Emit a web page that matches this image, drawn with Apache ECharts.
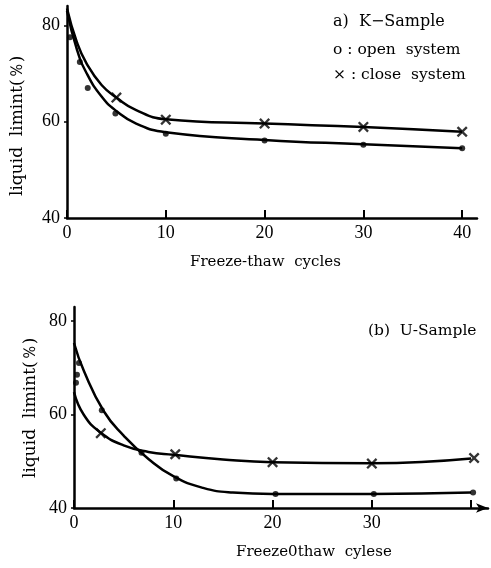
<!DOCTYPE html>
<html>
<head>
<meta charset="utf-8">
<script src="https://cdn.jsdelivr.net/npm/echarts@6/dist/echarts.min.js"></script>
<style>
html,body{margin:0;padding:0;background:#fff;}
#c{width:491px;height:568px;}
</style>
</head>
<body>
<div id="c"></div>
<script>
// ---- data ----
// Panel a) K-Sample
var kOpenCurve  = [[0,83],[1,75],[2,70],[3.5,65.2],[5,62.2],[7,59.6],[10,57.8],[20,56.2],[30,55.3],[40,54.5]];
var kCloseCurve = [[0,83.5],[1,76.5],[2,72],[3.5,67.6],[5,65],[7,62.4],[10,60.5],[20,59.6],[30,58.9],[40,57.9]];
var kOpenPts  = [[0.3,77.5],[1.3,72.4],[2.1,67],[4.9,61.7],[10,57.5],[20,56.1],[30,55.2],[40,54.5]];
var kClosePts = [[5,65],[10,60.4],[20,59.6],[30,58.9],[40,57.9]];
// Panel (b) U-Sample
var uOpenCurve  = [[0,75.3],[1,69.3],[3,60.7],[5,55.5],[7.5,50.5],[10,46.8],[13,44.3],[16,43.3],[20,43],[30,43],[40,43.3]];
var uCloseCurve = [[0,64.8],[1,59.9],[2.7,56.1],[5,53.4],[7.5,52],[10,51.4],[15,50.4],[20,49.8],[30,49.6],[40,50.6]];
var uOpenPts  = [[0.2,66.8],[0.3,68.5],[0.5,71],[2.8,60.9],[6.8,51.8],[10.3,46.3],[20.3,43],[30.2,43],[40.2,43.3]];
var uClosePts = [[2.7,56],[10.2,51.5],[20,49.8],[30,49.5],[40.3,50.7]];
var yTicks = [40,60,80];
var xTicksTop = [0,10,20,30,40];
var xLabelsBottom = [0,10,20,30];

var FONT = '"Liberation Serif","DejaVu Serif",serif';
var WFONT = '"DejaVu Serif","Liberation Serif",serif';
var crossPath = 'path://M0,1.5L1.5,0L5,3.5L8.5,0L10,1.5L6.5,5L10,8.5L8.5,10L5,6.5L1.5,10L0,8.5L3.5,5Z';

function xAxisCfg(idx, max, labels, ticks, arrow){
  return {
    type:'value', gridIndex:idx, min:0, max:max,
    axisLine:{show:true, onZero:false, lineStyle:{color:'#000', width:2.5}, symbol: arrow?['none','arrow']:['none','none'], symbolSize:[7,12]},
    axisTick:{show:true, inside:true, length:8, lineStyle:{color:'#000', width:2}, customValues:ticks},
    axisLabel:{color:'#000', fontFamily:FONT, fontSize:18, margin:6, customValues:labels},
    splitLine:{show:false}
  };
}
function yAxisCfg(idx, max){
  return {
    type:'value', gridIndex:idx, min:40, max:max,
    axisLine:{show:true, onZero:false, lineStyle:{color:'#000', width:2.5}},
    axisTick:{show:true, length:3, lineStyle:{color:'#000', width:1.5}, customValues:yTicks},
    axisLabel:{color:'#000', fontFamily:FONT, fontSize:18, margin:7, customValues:yTicks},
    splitLine:{show:false}
  };
}
function curve(idx, data){
  return {type:'line', xAxisIndex:idx, yAxisIndex:idx, data:data, smooth:0.5, showSymbol:false, symbol:'none',
    lineStyle:{color:'#000', width:2.5}, silent:true, z:2};
}
function dots(idx, data){
  return {type:'scatter', xAxisIndex:idx, yAxisIndex:idx, data:data, symbol:'circle', symbolSize:6, itemStyle:{color:'#000'}, z:3};
}
function crosses(idx, data){
  return {type:'scatter', xAxisIndex:idx, yAxisIndex:idx, data:data, symbol:crossPath, symbolSize:11, itemStyle:{color:'#000'}, z:3};
}

var chart = echarts.init(document.getElementById('c'), null, {renderer:'canvas'});
chart.setOption({
  animation:false,
  backgroundColor:'#fff',
  grid:[
    {left:67, top:6, width:410, height:212},
    {left:74, top:307, width:414, height:201}
  ],
  xAxis:[ xAxisCfg(0, 41.5, xTicksTop, xTicksTop, false), xAxisCfg(1, 41.7, xLabelsBottom, xTicksTop, true) ],
  yAxis:[ yAxisCfg(0, 84), yAxisCfg(1, 83) ],
  series:[
    curve(0,kOpenCurve), curve(0,kCloseCurve), dots(0,kOpenPts), crosses(0,kClosePts),
    curve(1,uOpenCurve), curve(1,uCloseCurve), dots(1,uOpenPts), crosses(1,uClosePts)
  ],
  graphic:[
    {type:'text', left:333, top:14, style:{text:'a)  K\u2212Sample', font:'16px '+WFONT, fill:'#000'}},
    {type:'text', left:333, top:42, style:{text:'o : open  system', font:'15.5px '+WFONT, fill:'#000'}},
    {type:'text', left:333, top:67, style:{text:'\u00d7 : close  system', font:'15.5px '+WFONT, fill:'#000'}},
    {type:'text', left:368, top:323, style:{text:'(b)  U-Sample', font:'15.5px '+WFONT, fill:'#000'}},
    {type:'text', x:190, y:255, style:{text:'Freeze-thaw  cycles', font:'15px '+WFONT, fill:'#000'}},
    {type:'text', x:236, y:545, style:{text:'Freeze0thaw  cylese', font:'15px '+WFONT, fill:'#000'}},
    {type:'text', x:9, y:196, rotation:Math.PI/2, style:{text:'liquid  limint(\uff05)', font:'17px '+WFONT, fill:'#000'}},
    {type:'text', x:22, y:478, rotation:Math.PI/2, style:{text:'liquid  limint(\uff05)', font:'17px '+WFONT, fill:'#000'}}
  ]
});
</script>
</body>
</html>
